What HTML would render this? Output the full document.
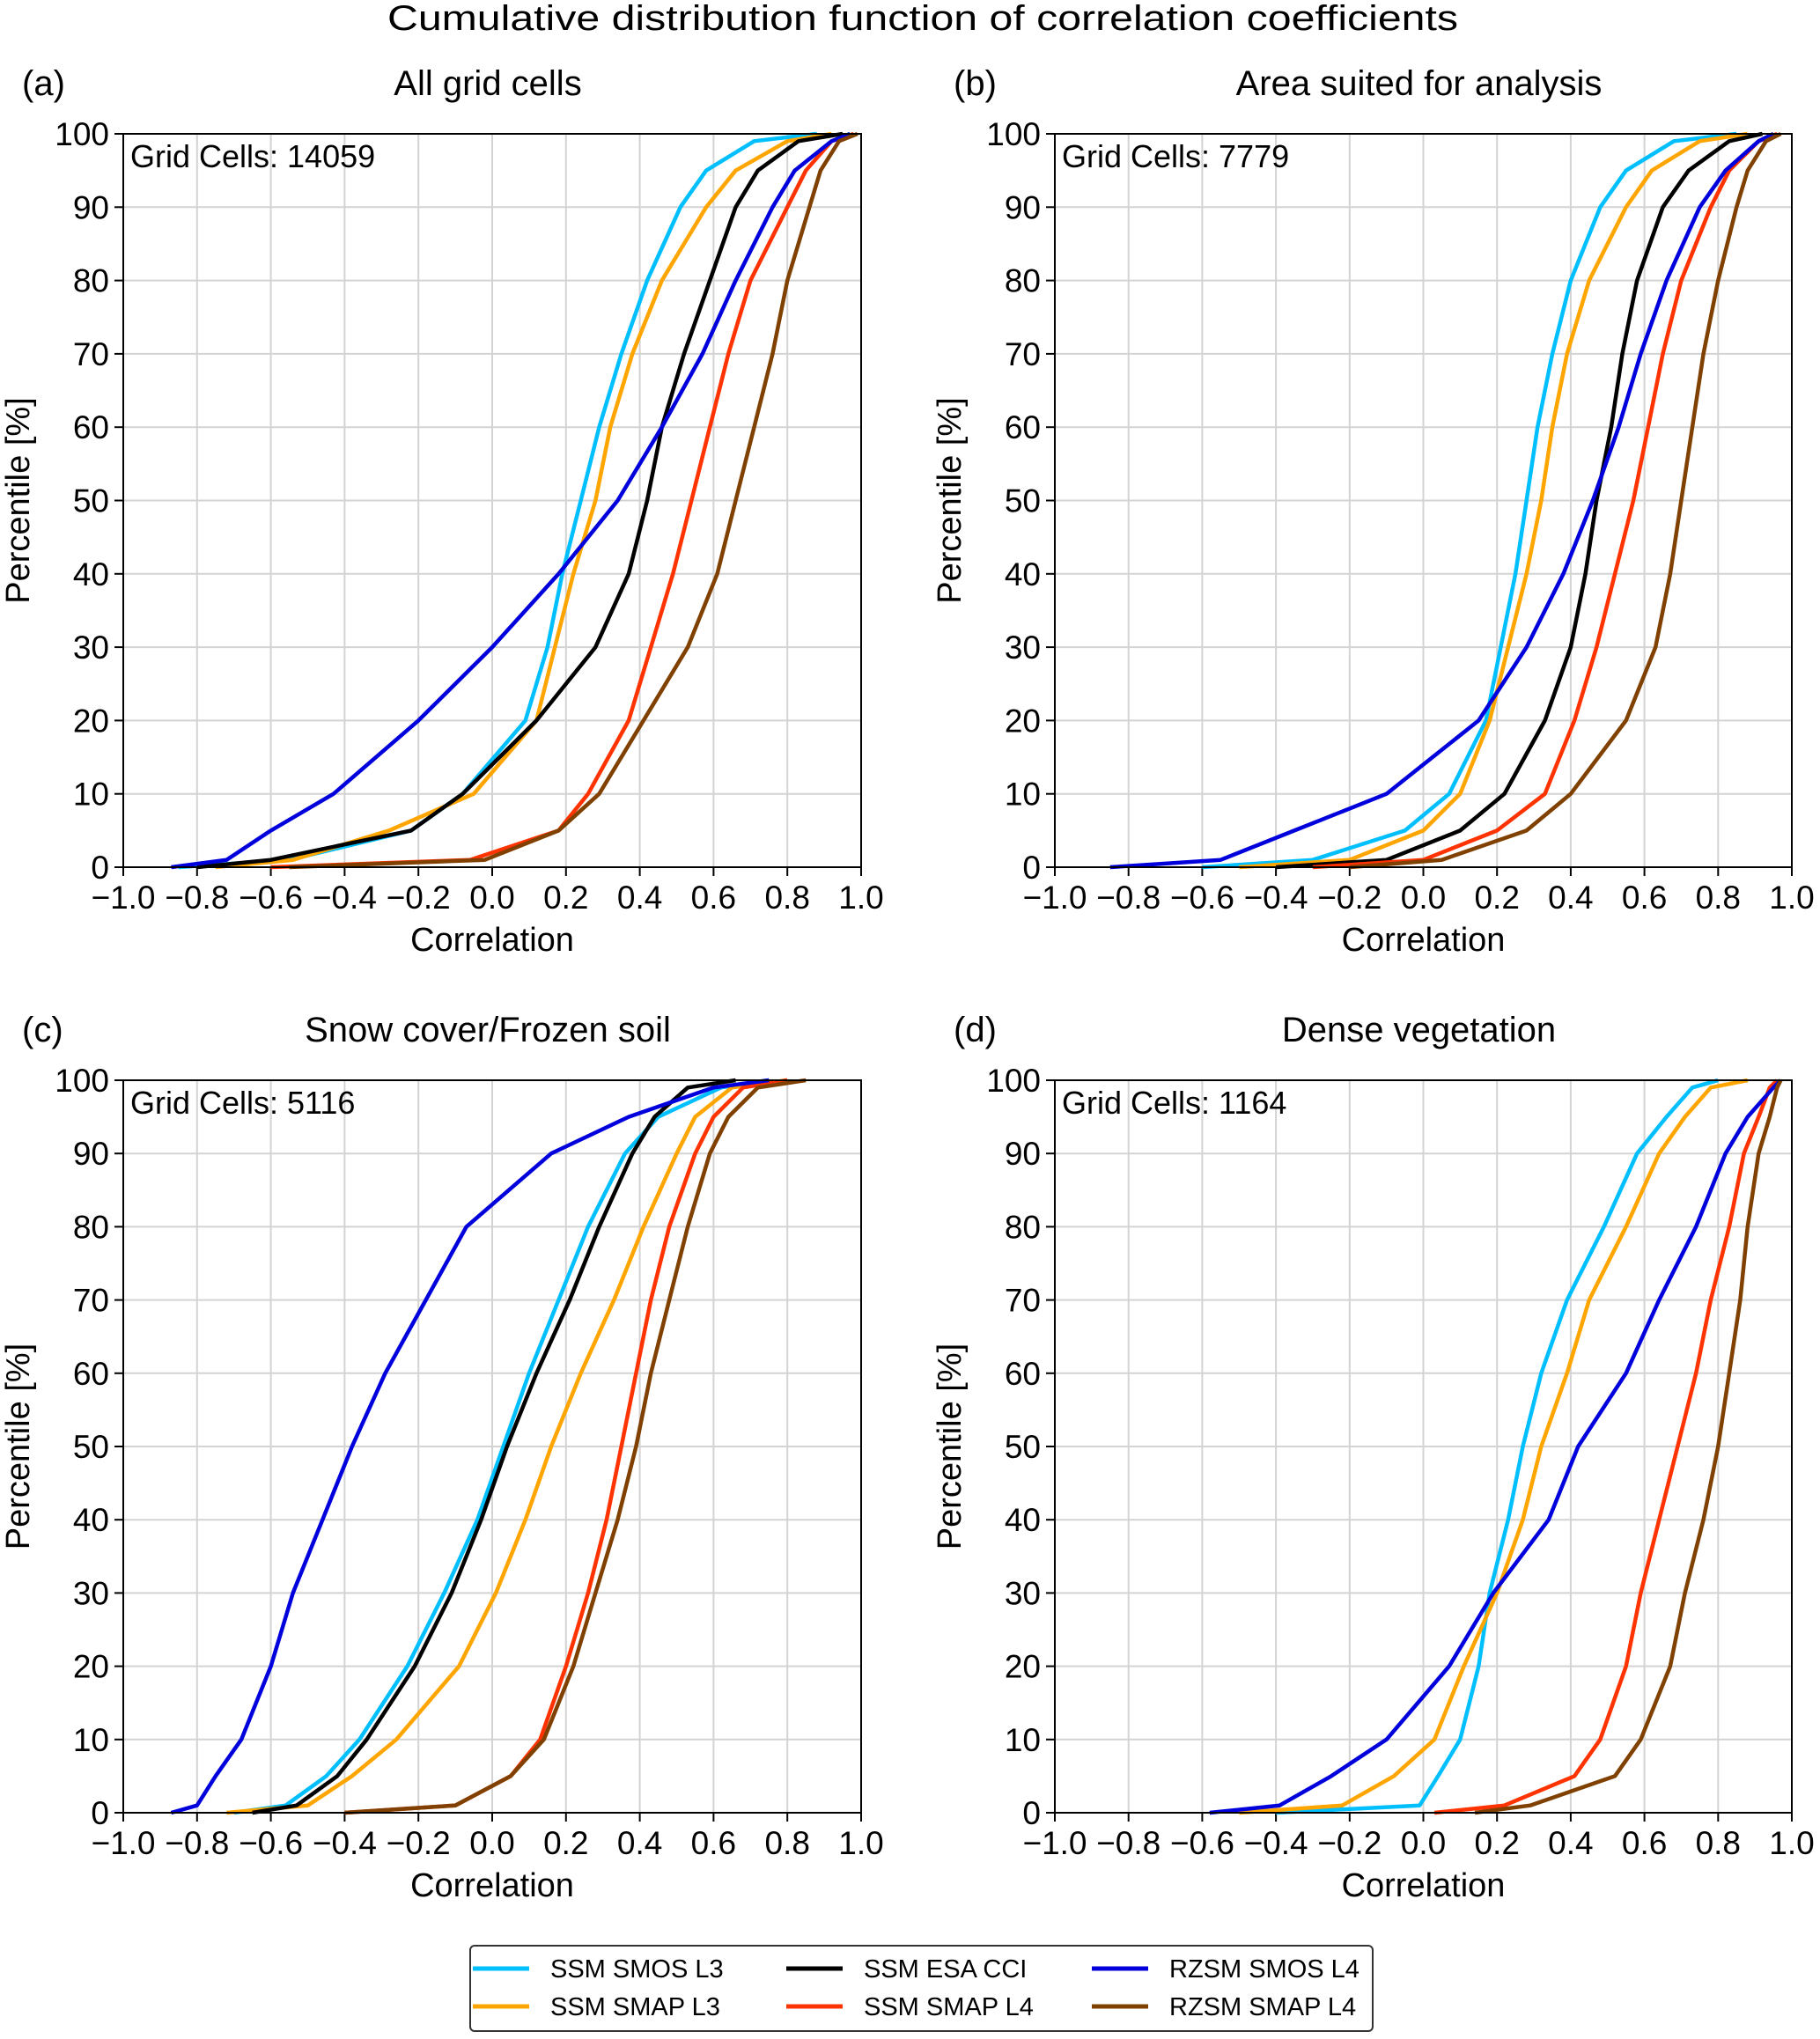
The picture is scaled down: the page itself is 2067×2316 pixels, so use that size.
<!DOCTYPE html>
<html><head><meta charset="utf-8"><style>
html,body{margin:0;padding:0;background:#fff}
svg{display:block;font-family:"Liberation Sans",sans-serif}
</style></head><body>
<svg id="chart" width="2067" height="2316" viewBox="0 0 2067 2316" xmlns="http://www.w3.org/2000/svg">
<text x="1048" y="34" font-size="40" text-anchor="middle" textLength="1216" lengthAdjust="spacingAndGlyphs">Cumulative distribution function of correlation coefficients</text>
<g id="panels"></g>
<g>
<rect x="534" y="2210" width="1025" height="97" rx="5" fill="#fff" stroke="#333" stroke-width="2"/>
<g id="legend-items"></g>
</g>
</svg>
<script>
const percentiles = [0,1,5,10,20,30,40,50,60,70,80,90,95,99,100];
const seriesNames = ["SSM SMOS L3","SSM SMAP L3","SSM ESA CCI","SSM SMAP L4","RZSM SMOS L4","RZSM SMAP L4"];
const seriesColors = ["#00bfff","#ffa500","#000000","#ff3300","#0000dd","#804000"];
const xTicks = [-1.0,-0.8,-0.6,-0.4,-0.2,0.0,0.2,0.4,0.6,0.8,1.0];
const yTicks = [0,10,20,30,40,50,60,70,80,90,100];
const panelLabels = ["(a)","(b)","(c)","(d)"];
const panelTitles = ["All grid cells","Area suited for analysis","Snow cover/Frozen soil","Dense vegetation"];
const gridCounts = [14059,7779,5116,1164];
const panelA = [
 [-0.85,-0.55,-0.22,-0.08,0.09,0.15,0.19,0.24,0.29,0.35,0.42,0.51,0.58,0.71,0.88],
 [-0.75,-0.54,-0.28,-0.05,0.12,0.17,0.22,0.28,0.32,0.38,0.46,0.58,0.66,0.80,0.92],
 [-0.80,-0.60,-0.22,-0.08,0.12,0.28,0.37,0.42,0.46,0.52,0.59,0.66,0.72,0.83,0.95],
 [-0.60,-0.06,0.18,0.26,0.37,0.43,0.49,0.54,0.59,0.64,0.70,0.80,0.85,0.92,0.98],
 [-0.87,-0.72,-0.60,-0.43,-0.20,0.00,0.18,0.34,0.46,0.57,0.66,0.76,0.82,0.92,0.97],
 [-0.55,-0.02,0.18,0.29,0.41,0.53,0.61,0.66,0.71,0.76,0.80,0.86,0.89,0.94,0.99]];
const panelB = [
 [-0.60,-0.30,-0.05,0.07,0.17,0.21,0.25,0.28,0.31,0.35,0.40,0.48,0.55,0.68,0.85],
 [-0.50,-0.20,0.00,0.10,0.18,0.23,0.28,0.32,0.35,0.39,0.45,0.55,0.62,0.75,0.88],
 [-0.40,-0.10,0.10,0.22,0.33,0.40,0.44,0.47,0.51,0.54,0.58,0.65,0.72,0.83,0.92],
 [-0.30,0.00,0.20,0.33,0.41,0.47,0.52,0.57,0.61,0.65,0.70,0.78,0.83,0.91,0.96],
 [-0.85,-0.55,-0.35,-0.10,0.15,0.28,0.38,0.46,0.53,0.59,0.66,0.75,0.82,0.91,0.95],
 [-0.20,0.05,0.28,0.40,0.55,0.63,0.67,0.70,0.73,0.76,0.80,0.85,0.88,0.93,0.97]];
const panelC = [
 [-0.70,-0.56,-0.45,-0.36,-0.23,-0.13,-0.04,0.03,0.10,0.18,0.26,0.36,0.45,0.62,0.75],
 [-0.72,-0.50,-0.38,-0.26,-0.09,0.01,0.09,0.16,0.24,0.33,0.41,0.50,0.55,0.65,0.80],
 [-0.65,-0.53,-0.42,-0.34,-0.21,-0.11,-0.03,0.04,0.12,0.21,0.29,0.38,0.44,0.53,0.66],
 [-0.40,-0.10,0.05,0.13,0.20,0.26,0.31,0.35,0.39,0.43,0.48,0.55,0.60,0.68,0.80],
 [-0.87,-0.80,-0.75,-0.68,-0.60,-0.54,-0.46,-0.38,-0.29,-0.18,-0.07,0.16,0.37,0.60,0.75],
 [-0.40,-0.10,0.05,0.14,0.22,0.28,0.34,0.39,0.43,0.48,0.53,0.59,0.64,0.72,0.85]];
const panelD = [
 [-0.40,-0.01,0.04,0.10,0.15,0.18,0.23,0.27,0.32,0.39,0.49,0.58,0.66,0.73,0.80],
 [-0.50,-0.22,-0.08,0.03,0.11,0.20,0.27,0.32,0.39,0.45,0.55,0.64,0.71,0.78,0.88],
 null,
 [0.03,0.22,0.41,0.48,0.55,0.59,0.64,0.69,0.74,0.78,0.83,0.87,0.91,0.94,0.96],
 [-0.58,-0.39,-0.25,-0.10,0.07,0.19,0.34,0.42,0.55,0.64,0.74,0.82,0.88,0.95,0.97],
 [0.14,0.29,0.52,0.59,0.67,0.71,0.76,0.80,0.83,0.86,0.88,0.91,0.94,0.96,0.97]];
const panelData = [panelA,panelB,panelC,panelD];

const NS="http://www.w3.org/2000/svg";
function mk(tag,attrs,parent){const e=document.createElementNS(NS,tag);for(const k in attrs)e.setAttribute(k,attrs[k]);if(parent)parent.appendChild(e);return e;}
const boxes=[{l:140,r:978,t:152,b:985},{l:1198,r:2035,t:152,b:985},{l:140,r:978,t:1227,b:2059},{l:1198,r:2035,t:1227,b:2059}];
const root=document.getElementById('panels');
boxes.forEach((bx,pi)=>{
  const g=mk('g',{},root);
  
  
  const X=v=>bx.l+(v+1)/2*(bx.r-bx.l);
  const Y=v=>bx.b-v/100*(bx.b-bx.t);
  xTicks.forEach(v=>{
    const ln=mk('line',{x1:X(v),x2:X(v),y1:bx.t,y2:bx.b,stroke:'#d3d3d3','stroke-width':2},g);
    
    mk('line',{x1:X(v),x2:X(v),y1:bx.b,y2:bx.b+10,stroke:'#000','stroke-width':2},g);
    const t=mk('text',{x:X(v),y:bx.b+47,'font-size':37,'text-anchor':'middle'},g);
    t.textContent=(v<0?'\u2212':'')+Math.abs(v).toFixed(1);
    
  });
  yTicks.forEach(v=>{
    const ln=mk('line',{x1:bx.l,x2:bx.r,y1:Y(v),y2:Y(v),stroke:'#d3d3d3','stroke-width':2},g);
    
    mk('line',{x1:bx.l-10,x2:bx.l,y1:Y(v),y2:Y(v),stroke:'#000','stroke-width':2},g);
    const t=mk('text',{x:bx.l-16,y:Y(v)+13,'font-size':37,'text-anchor':'end'},g);
    t.textContent=v;
    
  });
  panelData[pi].forEach((vals,si)=>{
    if(!vals)return;
    const pts=vals.map((c,k)=>X(c).toFixed(1)+','+Y(percentiles[k]).toFixed(1)).join(' ');
    const pl=mk('polyline',{points:pts,fill:'none',stroke:seriesColors[si],'stroke-width':4.5,'stroke-linejoin':'round'},g);
    
    
  });
  const fr=mk('rect',{x:bx.l,y:bx.t,width:bx.r-bx.l,height:bx.b-bx.t,fill:'none',stroke:'#000','stroke-width':2},g);
  
  const gc=mk('text',{x:bx.l+8,y:bx.t+38,'font-size':36},g);
  gc.textContent='Grid Cells: '+gridCounts[pi];
  
  const pl=mk('text',{x:bx.l-115,y:bx.t-44,'font-size':40},g);
  pl.textContent=panelLabels[pi];
  
  const pt=mk('text',{x:(bx.l+bx.r)/2-5,y:bx.t-44,'font-size':40,'text-anchor':'middle'},g);
  pt.textContent=panelTitles[pi];
  
  const xl=mk('text',{x:(bx.l+bx.r)/2,y:bx.b+95,'font-size':38,'text-anchor':'middle'},g);
  xl.textContent='Correlation';
  
  const cy=(bx.t+bx.b)/2,cx=bx.l-107;
  const yl=mk('text',{x:cx,y:cy,'font-size':38,'text-anchor':'middle',transform:`rotate(-90 ${cx} ${cy})`},g);
  yl.textContent='Percentile [%]';
  
});
const li=document.getElementById('legend-items');
const colX=[537,893,1240],rowY=[2236,2279];
seriesNames.forEach((n,i)=>{
  const c=Math.floor(i/2),r=i%2;
  const g=mk('g',{},li);
  
  
  mk('line',{x1:colX[c],x2:colX[c]+64,y1:rowY[r],y2:rowY[r],stroke:seriesColors[i],'stroke-width':5},g);
  const t=mk('text',{x:colX[c]+88,y:rowY[r]+10,'font-size':29},g);
  t.textContent=n;
});
</script>
</body></html>
